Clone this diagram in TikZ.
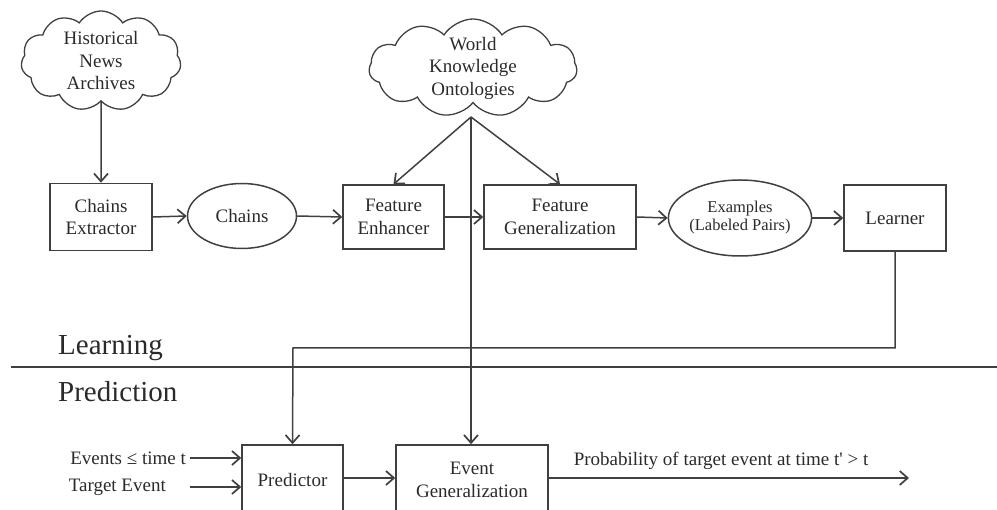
\documentclass[tikz,border=0pt]{standalone}
\usepackage{fontspec}
\setmainfont{Liberation Serif}
\usetikzlibrary{shapes.geometric,shapes.symbols,arrows.meta,calc}
\definecolor{ln}{HTML}{404040}
\definecolor{tx}{HTML}{2A2A2A}
\begin{document}
\begin{tikzpicture}[x=1pt,y=-1pt,
  every node/.style={text=tx, font=\fontsize{19}{22.5}\selectfont, align=center},
  boxnode/.style={draw=ln, line width=1.5pt, rectangle, inner sep=0pt},
  ellnode/.style={draw=ln, line width=1.5pt, ellipse, inner sep=0pt},
  cloudnode/.style={draw=ln, line width=1.3pt, cloud, cloud puffs=11, cloud puff arc=115, inner sep=0pt},
  arr/.style={draw=ln, line width=1.5pt, -{Straight Barb[length=8pt,width=14pt,line width=1.7pt]}},
  ln/.style={draw=ln, line width=1.5pt}]
\useasboundingbox (0,0) rectangle (997,510);
% clouds
\node[cloudnode, minimum width=160pt, minimum height=100pt] (hist) at (101,61) {};
\node (histt) at (101,61) {Historical\\News\\Archives};
\node[cloudnode, minimum width=208pt, minimum height=98pt] (wk) at (473,68) {};
\node (wkt) at (473,68) {World\\Knowledge\\Ontologies};
% top row
\node[boxnode, minimum width=102pt, minimum height=67pt] (ce) at (101,217) {Chains\\Extractor};
\node[ellnode, minimum width=109pt, minimum height=65pt] (ch) at (242,216) {Chains};
\node[boxnode, minimum width=101pt, minimum height=64pt] (fe) at (393.5,217) {Feature\\Enhancer};
\node[boxnode, minimum width=152pt, minimum height=64pt] (fg) at (560,217) {Feature\\Generalization};
\node[ellnode, minimum width=135pt, minimum height=76pt, font=\fontsize{16.5}{18}\selectfont] (ex) at (740,218) {Examples\\(Labeled Pairs)};
\node[boxnode, minimum width=102pt, minimum height=66pt] (le) at (895,218) {Learner};
% section labels and divider
\node[anchor=base west, font=\fontsize{29}{32}\selectfont, inner sep=0pt] (learn) at (58,355) {Learning};
\node[anchor=base west, font=\fontsize{29}{32}\selectfont, inner sep=0pt] (pred) at (58,402) {Prediction};
\coordinate (dl) at (11,367);
\coordinate (dr) at (997,367);
\draw[ln] (dl) -- (dr);
% bottom row
\node[boxnode, minimum width=101pt, minimum height=70pt] (pr) at (292.5,480) {Predictor};
\node[boxnode, minimum width=152pt, minimum height=70pt] (eg) at (472,480) {Event\\Generalization};
\node[anchor=east, inner sep=0pt] (ev) at (186,458) {Events ≤ time t};
\node[anchor=east, inner sep=0pt] (te) at (166,487) {Target Event};
\coordinate (in1) at (190,458);
\coordinate (in2) at (190,487);
\coordinate (out) at (909,478);
\node[anchor=base, inner sep=0pt] (prob) at (721,466) {Probability of target event at time t\textquotesingle{} > t};
% connectors
\draw[arr] (hist.south) -- (ce.north);
\draw[arr] (ce.east) -- (ch.west);
\draw[arr] (ch.east) -- (fe.west);
\draw[arr] (fe.east) -- (fg.west);
\draw[arr] (fg.east) -- (ex.west);
\draw[arr] (ex.east) -- (le.west);
\coordinate (wkb) at (471,117);
\draw[arr] (wkb) -- (fe.north);
\draw[arr] (wkb) -- (fg.north);
\draw[arr] (wkb) -- (wkb |- eg.north);
\coordinate (turn) at (293,348);
\draw[arr] (le.south) |- (turn) -- (pr.north);
\draw[arr] (in1) -- (in1 -| pr.west);
\draw[arr] (in2) -- (in2 -| pr.west);
\draw[arr] (pr.east |- out) -- (eg.west |- out);
\draw[arr] (eg.east |- out) -- (out);
\end{tikzpicture}
\end{document}
